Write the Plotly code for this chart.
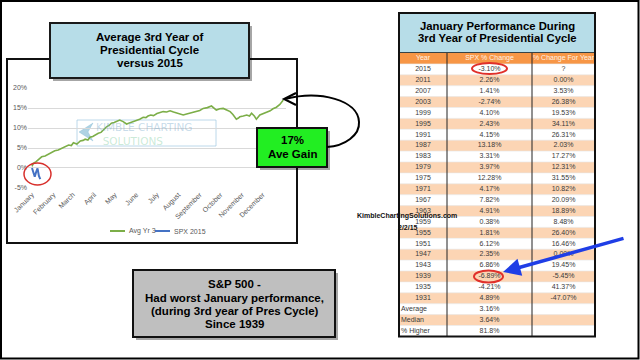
import plotly.graph_objects as go

W, H = 640, 360
FONT = "Liberation Sans"

# ---------------- data ----------------
months = ["January", "February", "March", "April", "May", "June", "July",
          "August", "September", "October", "November", "December"]
month_start_day = [0, 31, 59, 90, 120, 151, 181, 212, 243, 273, 304, 334]
y_ticks = [-5, 0, 5, 10, 15, 20]

avg_name = "Avg Yr 3"
avg_days = [0, 2, 6, 10, 14, 19, 24, 28, 33, 38, 43, 48, 53, 57, 60, 65, 70, 74,
            77, 81, 84, 88, 91, 96, 100, 103, 108, 112, 115, 119, 123, 127, 132,
            137, 142, 146, 149, 153, 156, 161, 165, 168, 172, 176, 181, 186, 190,
            195, 200, 205, 210, 214, 219, 224, 229, 233, 238, 243, 248, 254, 260,
            264, 267, 272, 277, 282, 287, 291, 294, 296, 299, 301, 306, 311, 315,
            318, 322, 325, 330, 335, 340, 345, 349, 354, 359, 364]
avg_pct = [0.4, 1.2, 1.6, 2.3, 2.8, 3.0, 3.5, 3.9, 4.3, 4.5, 4.9, 5.4, 5.75, 5.6,
           6.3, 6.0, 6.75, 6.9, 7.2, 7.0, 7.7, 7.9, 8.25, 8.7, 8.9, 9.5, 10.3,
           10.7, 11.2, 11.4, 11.8, 12.0, 11.6, 11.0, 11.3, 11.5, 11.8, 12.0, 12.2,
           12.7, 12.6, 13.0, 13.25, 13.1, 13.6, 13.9, 14.1, 14.0, 14.3, 14.0, 13.7,
           13.4, 13.25, 13.5, 13.7, 13.9, 14.1, 14.4, 14.9, 15.1, 15.5, 15.0, 14.5,
           14.8, 14.9, 14.5, 14.1, 13.4, 12.8, 12.2, 12.5, 12.8, 13.0, 13.25, 13.0,
           13.7, 13.0, 12.2, 13.25, 13.6, 14.1, 14.3, 14.8, 15.2, 15.9, 17.0]

spx_name = "SPX 2015"
spx_days = [0, 2, 4, 6, 8, 10, 12]
spx_pct = [0.0, -1.0, -2.2, -1.0, -0.1, -2.0, -2.8]

table_header = ["Year", "SPX % Change", "% Change For Year"]
table_years = ["2015", "2011", "2007", "2003", "1999", "1995", "1991", "1987",
               "1983", "1979", "1975", "1971", "1967", "1963", "1959", "1955",
               "1951", "1947", "1943", "1939", "1935", "1931"]
table_spx = ["-3.10%", "2.26%", "1.41%", "-2.74%", "4.10%", "2.43%", "4.15%",
             "13.18%", "3.31%", "3.97%", "12.28%", "4.17%", "7.82%", "4.91%",
             "0.38%", "1.81%", "6.12%", "2.35%", "6.86%", "-6.89%", "-4.21%",
             "4.89%"]
table_year_chg = ["?", "0.00%", "3.53%", "26.38%", "19.53%", "34.11%", "26.31%",
                  "2.03%", "17.27%", "12.31%", "31.55%", "10.82%", "20.09%",
                  "18.89%", "8.48%", "26.40%", "16.46%", "0.00%", "19.45%",
                  "-5.45%", "41.37%", "-47.07%"]
summary_labels = ["Average", "Median", "% Higher"]
summary_values = ["3.16%", "3.64%", "81.8%"]

# ---------------- helpers (pixel -> paper) ----------------
def px(x):
    return x / W


def py(y):
    return 1 - y / H


def rect(x0, y0, x1, y1, fill=None, line="black", lw=1, layer="above"):
    return dict(type="rect", xref="paper", yref="paper", x0=px(x0), x1=px(x1),
                y0=py(y1), y1=py(y0), fillcolor=fill or "rgba(0,0,0,0)",
                line=dict(color=line, width=lw), layer=layer)


def pline(x0, y0, x1, y1, color, lw, layer="above"):
    return dict(type="line", xref="paper", yref="paper", x0=px(x0), x1=px(x1),
                y0=py(y0), y1=py(y1), line=dict(color=color, width=lw), layer=layer)


def ppath(cmds, color, lw, fill=None, layer="above"):
    s = ""
    for c in cmds:
        if isinstance(c, str):
            s += c + " "
        else:
            s += "%.5f,%.5f " % (px(c[0]), py(c[1]))
    return dict(type="path", xref="paper", yref="paper", path=s.strip(),
                line=dict(color=color, width=lw),
                fillcolor=fill or "rgba(0,0,0,0)", layer=layer)


def txt(x, y, s, size, color="black", bold=False, xanchor="center", family=FONT, align="center"):
    return dict(xref="paper", yref="paper", x=px(x), y=py(y), text=s,
                showarrow=False, xanchor=xanchor, yanchor="middle", align=align,
                font=dict(family=family, size=size, color=color,
                          weight="bold" if bold else "normal"))


shapes = []
annots = []

# outer frame and chart panel
shapes.append(rect(1, 1, 638.5, 358.5, fill=None, line="black", lw=2, layer="below"))
shapes.append(rect(7, 59, 297, 243, fill="white", line="#111111", lw=2, layer="below"))

# watermark (behind lines)
shapes.append(rect(77, 120, 216, 146, fill=None, line="rgba(160,200,225,0.7)", lw=1, layer="below"))
shapes.append(ppath(["M", (93, 123), "L", (79, 132), "L", (93, 141), "L", (88, 132), "Z"],
                    "rgba(110,175,205,0.6)", 0.5, fill="rgba(110,175,205,0.55)", layer="below"))
annots.append(txt(94, 133.5,
                  "<span style='color:rgba(120,170,205,0.65)'>KIMBLE CHARTING</span><br>"
                  "<span style='color:rgba(130,205,160,0.65)'>&nbsp;&nbsp;SOLUTIONS</span>",
                  10.5, "rgba(120,170,205,0.65)", family="DejaVu Sans",
                  xanchor="left", align="left"))

# chart title box
shapes.append(rect(53, 26, 252, 81, fill="rgba(0,0,0,0.35)", line="rgba(0,0,0,0)", lw=0))
shapes.append(rect(50, 23, 249, 78, fill="#b7dde8", line="#1a1a1a", lw=2))
for yy, s in zip([37, 50, 63], ["Average 3rd Year of", "Presidential Cycle", "versus 2015"]):
    annots.append(txt(149.5, yy, s, 11.5, bold=True))

# green box
shapes.append(rect(260, 131, 330, 170, fill="rgba(0,0,0,0.35)", line="rgba(0,0,0,0)", lw=0))
shapes.append(rect(257, 128, 327, 167, fill="#22ee22", line="#111111", lw=2))
annots.append(txt(292, 140.5, "17%", 11.5, bold=True))
annots.append(txt(292, 154, "Ave Gain", 11.5, bold=True))

# curved arrow from green box to line end
shapes.append(ppath(["M", (327, 147), "C", (345, 146), (360, 135), (359, 122),
                     "C", (358, 100), (320, 90), (285, 99)], "black", 2))
shapes.append(ppath(["M", (296, 93), "L", (284, 99), "L", (296, 105)], "black", 2))

# red circle around 2015 line
shapes.append(dict(type="circle", xref="paper", yref="paper", x0=px(24), x1=px(51),
                   y0=py(185), y1=py(163), line=dict(color="#d8302c", width=1.5), layer="above"))

# gray box
shapes.append(rect(136, 273, 338, 340, fill="rgba(0,0,0,0.35)", line="rgba(0,0,0,0)", lw=0))
shapes.append(rect(133, 270, 335, 337, fill="#bfbfbf", line="#111111", lw=2))
for yy, s in zip([284, 297.5, 310.5, 323.5],
                 ["S&P 500 -", "Had worst January performance,",
                  "(during 3rd year of Pres Cycle)", "Since 1939"]):
    annots.append(txt(234.5, yy, s, 11.5, bold=True))

# legend (manual)
shapes.append(pline(110, 231, 125, 231, "#7cae48", 2))
annots.append(txt(126.5, 231, avg_name, 7, "#595959", xanchor="left"))
shapes.append(pline(155, 231, 170, 231, "#4472c4", 2))
annots.append(txt(171.5, 231, spx_name, 7, "#595959", xanchor="left"))

# ---------------- table ----------------
TX0, TX1 = 399, 595
TY_TOP = 53
ROW_H = 10.9
n_rows = 1 + len(table_years) + len(summary_labels)
TY_BOT = TY_TOP + ROW_H * n_rows
col_bounds = [0, 48, 133, 196]
col_centers = [(col_bounds[i] + col_bounds[i + 1]) / 2 for i in range(3)]

shapes.append(rect(TX0, 13, TX1, TY_TOP, fill="#b7dde8", line="#111111", lw=1.5, layer="below"))
annots.append(txt(497, 26, "January Performance During", 11.3, bold=True))
annots.append(txt(497, 38.5, "3rd Year of Presidential Cycle", 11.3, bold=True))

row_fill = ["#f79646"]
for i in range(len(table_years) + len(summary_labels)):
    row_fill.append("#ffffff" if i % 2 == 0 else "#fcd5b4")
for k, f in enumerate(row_fill):
    shapes.append(dict(type="rect", xref="x2", yref="y2", x0=col_bounds[0], x1=col_bounds[-1],
                       y0=k, y1=k + 1, fillcolor=f, line=dict(width=0), layer="below"))
    if k > 0:
        shapes.append(dict(type="line", xref="x2", yref="y2", x0=col_bounds[0], x1=col_bounds[-1],
                           y0=k, y1=k, line=dict(color="#e6e6e6", width=0.6), layer="below"))
for cb in col_bounds[1:-1]:
    shapes.append(dict(type="line", xref="x2", yref="y2", x0=cb, x1=cb, y0=0, y1=n_rows,
                       line=dict(color="#222222", width=1), layer="below"))
shapes.append(rect(TX0, 13, TX1, TY_BOT, fill=None, line="#111111", lw=2))

# red ellipses in table
shapes.append(dict(type="circle", xref="paper", yref="paper", x0=px(472), x1=px(507),
                   y0=py(74), y1=py(63), line=dict(color="#e0302a", width=2), layer="above"))
shapes.append(dict(type="circle", xref="paper", yref="paper", x0=px(474), x1=px(503),
                   y0=py(282.5), y1=py(270.5), line=dict(color="#e0302a", width=2), layer="above"))

# blue arrow
annots.append(dict(xref="paper", yref="paper", x=px(503), y=py(272), ax=122, ay=-34,
                   axref="pixel", ayref="pixel", text="", showarrow=True,
                   arrowhead=2, arrowsize=1.0, arrowwidth=3.5, arrowcolor="#1f3ee6",
                   standoff=0))

# site watermark
annots.append(txt(406.5, 216, "KimbleChartingSolutions.com", 7, "#111111", bold=True))
annots.append(txt(408, 227, "2/2/15", 7, "#111111", bold=True))

# ---------------- figure ----------------
fig = go.Figure()

fig.add_trace(go.Scatter(x=avg_days, y=avg_pct, name=avg_name, mode="lines",
                         line=dict(color="#7cae48", width=1.6), xaxis="x", yaxis="y",
                         showlegend=False, hoverinfo="skip"))
fig.add_trace(go.Scatter(x=spx_days, y=spx_pct, name=spx_name, mode="lines",
                         line=dict(color="#4472c4", width=2), xaxis="x", yaxis="y",
                         showlegend=False, hoverinfo="skip"))

# table text traces
tfont = dict(family=FONT, size=7, color="#3a3a3a")
hdr_y = [0.5] * 3
fig.add_trace(go.Scatter(x=col_centers, y=hdr_y, text=table_header, mode="text",
                         textfont=dict(family=FONT, size=7, color="#fff3e8"),
                         xaxis="x2", yaxis="y2", showlegend=False, hoverinfo="skip",
                         cliponaxis=False))
data_y = [k + 1.5 for k in range(len(table_years))]
for ci, col in enumerate([table_years, table_spx, table_year_chg]):
    fig.add_trace(go.Scatter(x=[col_centers[ci]] * len(col), y=data_y, text=col,
                             mode="text", textfont=tfont, xaxis="x2", yaxis="y2",
                             showlegend=False, hoverinfo="skip", cliponaxis=False))
sum_y = [len(table_years) + k + 1.5 for k in range(len(summary_labels))]
fig.add_trace(go.Scatter(x=[2] * len(summary_labels), y=sum_y, text=summary_labels,
                         mode="text", textposition="middle right", textfont=tfont,
                         xaxis="x2", yaxis="y2", showlegend=False, hoverinfo="skip",
                         cliponaxis=False))
fig.add_trace(go.Scatter(x=[col_centers[1]] * len(summary_values), y=sum_y,
                         text=summary_values, mode="text", textfont=tfont,
                         xaxis="x2", yaxis="y2", showlegend=False, hoverinfo="skip",
                         cliponaxis=False))

# main chart axes: plot area x 28..286 px, y 88..188 px
x_px0, x_px1 = 28, 286
day0_px, day365_px = 32, 284
scale = 365 / (day365_px - day0_px)
xr = [(x_px0 - day0_px) * scale, (x_px1 - day0_px) * scale]

fig.update_layout(
    template="none",
    width=W, height=H,
    margin=dict(l=0, r=0, t=0, b=0, pad=0),
    paper_bgcolor="white",
    plot_bgcolor="rgba(0,0,0,0)",
    showlegend=False,
    font=dict(family=FONT),
    xaxis=dict(domain=[px(x_px0), px(x_px1)], range=xr, tickvals=month_start_day,
               ticktext=months, tickangle=-45, showgrid=False, zeroline=False,
               showline=False, ticks="", tickfont=dict(family=FONT, size=7, color="#595959"),
               automargin=False, fixedrange=True),
    yaxis=dict(domain=[py(188.3), py(87.7)], range=[-5.08, 20.08], tickvals=y_ticks,
               ticktext=["%d%%" % v for v in y_ticks], showgrid=True,
               gridcolor="#d9d9d9", gridwidth=1, zeroline=False, showline=False,
               ticks="", tickfont=dict(family=FONT, size=7, color="#595959"),
               automargin=False, fixedrange=True),
    xaxis2=dict(domain=[px(TX0), px(TX1)], range=[0, 196], visible=False,
                automargin=False, fixedrange=True),
    yaxis2=dict(domain=[py(TY_BOT), py(TY_TOP)], range=[n_rows, 0], visible=False,
                automargin=False, fixedrange=True),
    shapes=shapes,
    annotations=annots,
)

fig.write_html("out.html", config={"displayModeBar": False},
               post_script="document.body.style.margin='0px';document.body.style.overflow='hidden';")
